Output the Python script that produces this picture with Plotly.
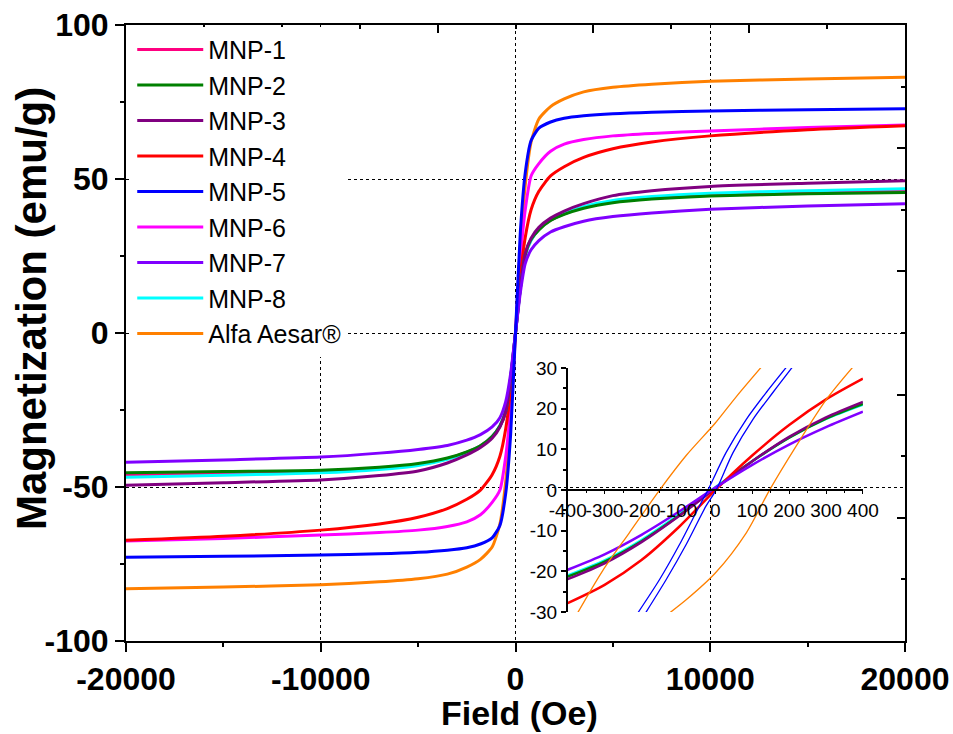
import plotly.graph_objects as go

# ---------------- data ----------------
NAMES = ["MNP-1", "MNP-2", "MNP-3", "MNP-4", "MNP-5", "MNP-6", "MNP-7", "MNP-8", "Alfa Aesar®"]
COLORS = ["#FF0080", "#008000", "#800080", "#FF0000", "#0000FF", "#FF00FF", "#8000FF", "#00FFFF", "#FF8000"]

FIELD = [-20000, -15000, -10000, -7000, -5000, -3500, -2500, -1800, -1200, -800, -500, -250,
         0, 250, 500, 800, 1200, 1800, 2500, 3500, 5000, 7000, 10000, 15000, 20000]

M_MNP1 = [-46.2, -45.7, -45.0, -44.0, -42.7, -40.8, -38.7, -36.6, -33.6, -30.2, -25.3, -14.5,
          0.0, 14.5, 25.3, 30.2, 33.6, 36.6, 38.7, 40.8, 42.7, 44.0, 45.0, 45.7, 46.2]
M_MNP2 = [-45.4, -45.0, -44.6, -43.6, -42.4, -40.6, -38.6, -36.6, -33.6, -30.2, -25.4, -14.6,
          0.0, 14.6, 25.4, 30.4, 33.5, 36.5, 38.5, 40.5, 42.3, 43.5, 44.5, 45.2, 45.6]
M_MNP3 = [-49.4, -48.6, -47.7, -46.3, -44.8, -42.2, -39.6, -37.2, -34.2, -30.5, -25.5, -15.0,
          0.0, 15.0, 25.8, 30.8, 34.3, 37.3, 39.6, 42.0, 44.6, 46.2, 47.6, 48.6, 49.4]
M_MNP4 = [-67.3, -66.0, -64.0, -62.0, -59.8, -57.0, -54.0, -51.0, -46.0, -40.0, -31.0, -18.5,
          0.0, 18.5, 31.0, 40.0, 46.0, 51.0, 54.0, 57.0, 59.8, 62.0, 64.0, 66.0, 67.3]
M_MNP5 = [-72.8, -72.5, -72.1, -71.7, -71.2, -70.5, -69.7, -68.5, -66.5, -62.5, -52.0, -33.0,
          0.0, 33.0, 52.0, 62.5, 66.5, 68.5, 69.7, 70.5, 71.2, 71.7, 72.1, 72.5, 72.8]
M_MNP6 = [-67.5, -66.7, -65.6, -64.8, -64.0, -62.8, -61.3, -59.0, -55.0, -51.0, -40.0, -24.0,
          0.0, 24.0, 40.0, 51.0, 55.0, 59.0, 61.3, 62.8, 64.0, 64.8, 65.6, 66.7, 67.5]
M_MNP7 = [-42.0, -41.2, -40.3, -39.0, -37.8, -36.5, -34.8, -33.0, -30.5, -27.5, -22.2, -13.2,
          0.0, 13.2, 22.5, 27.0, 30.0, 32.8, 34.5, 36.3, 37.8, 39.0, 40.2, 41.2, 42.0]
M_MNP8 = [-46.8, -46.2, -45.4, -44.3, -43.0, -41.0, -38.8, -36.7, -33.6, -30.1, -25.2, -14.4,
          0.0, 14.4, 25.2, 30.1, 33.6, 36.7, 38.7, 41.0, 43.0, 44.3, 45.4, 46.2, 46.8]
M_ALFA = [-83.0, -82.5, -81.7, -80.8, -79.8, -78.3, -76.0, -73.5, -69.5, -62.0, -48.0, -28.0,
          0.0, 28.0, 48.0, 62.0, 69.5, 73.5, 76.0, 78.3, 79.8, 80.8, 81.7, 82.5, 83.0]

MAIN_M = [M_MNP1, M_MNP2, M_MNP3, M_MNP4, M_MNP5, M_MNP6, M_MNP7, M_MNP8, M_ALFA]

# inset (low-field region)
INSET_FIELD = [-400, -300, -200, -100, 0, 100, 200, 300, 400]
IN_MNP2 = [-21.3, -17.6, -12.6, -6.4, 0.5, 7.1, 12.9, 17.6, 21.2]
IN_MNP3 = [-21.9, -18.0, -12.8, -6.5, 0.4, 7.1, 13.1, 17.9, 21.7]
IN_MNP4 = [-27.8, -23.3, -17.2, -9.2, 0.0, 8.5, 16.0, 22.3, 27.4]
IN_MNP7 = [-19.6, -15.8, -11.0, -5.4, 0.6, 6.2, 11.2, 15.5, 19.3]
IN_MNP8 = [-21.0, -17.3, -12.3, -6.1, 0.7, 7.1, 12.9, 17.5, 21.0]

BLUE_DESC_H = [195, 138, 84, 29, -20, -43, -97, -151, -212]
BLUE_DESC_M = [30.5, 24.0, 17.4, 9.2, 0.0, -3.9, -13.4, -22.0, -30.5]
BLUE_ASC_H = [-191, -133, -79, -25, 2, 48, 102, 156, 211]
BLUE_ASC_M = [-30.5, -22.0, -13.4, -3.9, 0.0, 9.2, 17.4, 24.0, 30.5]

ALFA_DESC_H = [127, 57, 0, -79, -151, -233, -305, -375]
ALFA_DESC_M = [30.5, 23.0, 16.5, 8.5, 0.0, -10.5, -19.8, -30.5]
ALFA_ASC_H = [-128, -79, 0, 84, 147, 219, 301, 375]
ALFA_ASC_M = [-30.5, -27.0, -20.4, -10.5, 0.0, 10.8, 22.3, 30.5]

MAIN_XTICKS = [-20000, -10000, 0, 10000, 20000]
MAIN_YTICKS = [-100, -50, 0, 50, 100]
INSET_XTICKS = [-400, -300, -200, -100, 0, 100, 200, 300, 400]
INSET_YTICKS = [-30, -20, -10, 0, 10, 20, 30]

# ---------------- figure ----------------
FONT = "Liberation Sans, Arial, sans-serif"
fig = go.Figure()

draw_order = [0, 8, 5, 3, 7, 1, 2, 6, 4]
for i in draw_order:
    fig.add_trace(go.Scatter(
        x=FIELD, y=MAIN_M[i], mode="lines", name=NAMES[i], legendrank=i + 1,
        line=dict(color=COLORS[i], width=3, shape="spline", smoothing=0.6),
        xaxis="x", yaxis="y"))

inset_single = [(IN_MNP8, 7), (IN_MNP2, 1), (IN_MNP3, 2), (IN_MNP4, 3), (IN_MNP7, 6)]
for vals, ci in inset_single:
    fig.add_trace(go.Scatter(
        x=INSET_FIELD, y=vals, mode="lines", showlegend=False,
        line=dict(color=COLORS[ci], width=2.5, shape="spline", smoothing=0.8),
        xaxis="x2", yaxis="y2"))

for hx, my, ci in [(ALFA_DESC_H, ALFA_DESC_M, 8), (ALFA_ASC_H, ALFA_ASC_M, 8),
                   (BLUE_DESC_H, BLUE_DESC_M, 4), (BLUE_ASC_H, BLUE_ASC_M, 4)]:
    fig.add_trace(go.Scatter(
        x=hx, y=my, mode="lines", showlegend=False,
        line=dict(color=COLORS[ci], width=1.3, shape="spline", smoothing=0.8),
        xaxis="x2", yaxis="y2"))

# helper trace so the mirror (top/right) axes are drawn
fig.add_trace(go.Scatter(x=[], y=[], xaxis="x3", yaxis="y3", showlegend=False, hoverinfo="skip"))

tickfont_main = dict(family=FONT, size=32, color="black", weight="bold")
tickfont_inset = dict(family=FONT, size=19, color="black")

fig.update_layout(
    width=953, height=734,
    margin=dict(l=126, r=48, t=25, b=93, autoexpand=False),
    paper_bgcolor="white", plot_bgcolor="rgba(0,0,0,0)",
    showlegend=True,
    legend=dict(x=0.008, y=0.997, xanchor="left", yanchor="top",
                bgcolor="white", borderwidth=0, font=dict(family=FONT, size=25, color="black"),
                tracegroupgap=0, itemwidth=66, traceorder="normal",
                entrywidth=150, entrywidthmode="pixels"),
    xaxis=dict(range=[-20000, 20000], tickvals=MAIN_XTICKS, ticktext=[str(v) for v in MAIN_XTICKS],
               ticks="outside", ticklen=9, tickwidth=2, tickcolor="black",
               minor=dict(dtick=5000, ticks="outside", ticklen=4, tickwidth=2, tickcolor="black", showgrid=False),
               showline=True, linewidth=2, linecolor="black", automargin=False,
               showgrid=True, griddash="dot", gridcolor="black", gridwidth=1, zeroline=False,
               tickfont=tickfont_main, domain=[0, 1], anchor="y"),
    yaxis=dict(range=[-100, 100], tickvals=MAIN_YTICKS, ticktext=[str(v) for v in MAIN_YTICKS],
               ticks="outside", ticklen=9, tickwidth=2, tickcolor="black",
               minor=dict(dtick=25, ticks="outside", ticklen=4, tickwidth=2, tickcolor="black", showgrid=False),
               showline=True, linewidth=2, linecolor="black", automargin=False,
               showgrid=True, griddash="dot", gridcolor="black", gridwidth=1, zeroline=False,
               tickfont=tickfont_main, domain=[0, 1], anchor="x"),
    xaxis3=dict(overlaying="x", side="top", anchor="y3", range=[-20000, 20000],
                tick0=4000, dtick=8000, ticks="inside", ticklen=8, tickwidth=2, tickcolor="black",
                minor=dict(dtick=4000, ticks="inside", ticklen=4, tickwidth=1.5, tickcolor="black"),
                showticklabels=False, showline=True, linewidth=2, linecolor="black", automargin=False,
                showgrid=False, zeroline=False),
    yaxis3=dict(overlaying="y", side="right", anchor="x3", range=[-100, 100],
                tick0=20, dtick=40, ticks="inside", ticklen=8, tickwidth=2, tickcolor="black",
                minor=dict(dtick=20, ticks="inside", ticklen=4, tickwidth=1.5, tickcolor="black"),
                showticklabels=False, showline=True, linewidth=2, linecolor="black", automargin=False,
                showgrid=False, zeroline=False),
    xaxis2=dict(domain=[0.567, 0.946], range=[-400, 400], anchor="free", position=0.245,
                tickvals=INSET_XTICKS, ticktext=[str(v) for v in INSET_XTICKS], tickangle=0,
                ticks="outside", ticklen=3, tickwidth=1, tickcolor="black",
                minor=dict(dtick=50, ticks="outside", ticklen=2, tickcolor="black"),
                showline=True, linewidth=1.5, linecolor="black", automargin=False,
                showgrid=False, zeroline=False, tickfont=tickfont_inset),
    yaxis2=dict(domain=[0.047, 0.443], range=[-30, 30], anchor="x2",
                tickvals=INSET_YTICKS, ticktext=[str(v) for v in INSET_YTICKS],
                ticks="outside", ticklen=5, tickwidth=1.5, tickcolor="black",
                minor=dict(dtick=5, ticks="outside", ticklen=3, tickcolor="black"),
                showline=True, linewidth=1.5, linecolor="black", automargin=False,
                showgrid=False, zeroline=False, tickfont=tickfont_inset),
    annotations=[
        dict(text="Field (Oe)", xref="paper", yref="paper", x=0.505, y=-0.1161,
             xanchor="center", yanchor="middle", showarrow=False,
             font=dict(family=FONT, size=34, color="black", weight="bold")),
        dict(text="Magnetization (emu/g)", xref="paper", yref="paper", x=-0.121, y=0.54,
             xanchor="center", yanchor="middle", showarrow=False, textangle=-90,
             font=dict(family=FONT, size=42, color="black", weight="bold")),
    ],
)

fig.write_html("out.html")
